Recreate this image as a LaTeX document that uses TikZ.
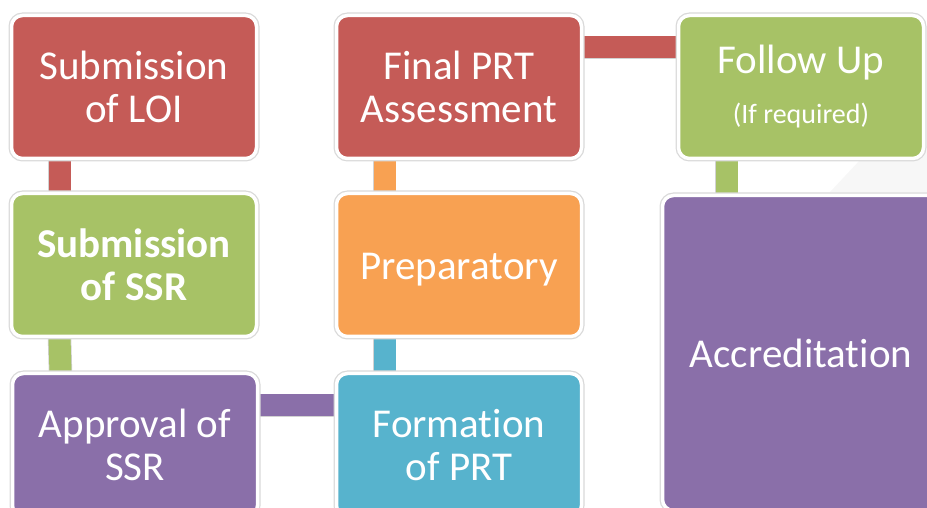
\documentclass[tikz,border=0pt]{standalone}
\usepackage{fontspec}
\setmainfont{Carlito}[Ligatures=NoCommon]
\usetikzlibrary{backgrounds}

\definecolor{loired}{HTML}{C55B57}
\definecolor{ssrgreen}{HTML}{A7C266}
\definecolor{apprpurple}{HTML}{8A6FA9}
\definecolor{prtblue}{HTML}{57B3CD}
\definecolor{preporange}{HTML}{F8A152}

\tikzset{
  stage/.style={draw=white, line width=3.5pt, rounded corners=11pt,
    minimum width=245pt, minimum height=143pt, text=white, align=center,
    font=\fontsize{41}{43}\selectfont, outer sep=0pt,
    preaction={draw=gray!30, line width=6pt}},
  link/.style={line width=22pt, preaction={draw=gray!35, line width=23.5pt}},
}

\begin{document}
\begin{tikzpicture}[x=1pt,y=1pt]
\useasboundingbox (0,0) rectangle (927,508);
\clip (0,0) rectangle (927,508);
% faint backdrop behind the right column
\fill[gray!6] (830,316) -- (860,348) -- (927,362) -- (927,316) -- cycle;

% left column
\node[stage, fill=loired] (loi) at (134,421) {Submission\\of LOI};
\node[stage, fill=ssrgreen, font=\fontsize{41}{43}\selectfont\bfseries] (ssr) at (134,243) {Submission\\of SSR};
\node[stage, fill=apprpurple] (appr) at (135,63) {Approval of\\SSR};
% middle column
\node[stage, fill=loired] (final) at (459,421) {Final PRT\\Assessment};
\node[stage, fill=preporange, text height=30pt, text depth=0pt] (prep) at (459,243) {Preparatory};
\node[stage, fill=prtblue] (form) at (459,63) {Formation\\of PRT};
% right column
\node[stage, fill=ssrgreen] (follow) at (801,421) {Follow Up\\[7pt]{\fontsize{28}{30}\selectfont (If required)}};
\node[stage, fill=apprpurple, minimum width=277pt, minimum height=315pt] (accr) at (801,155) {Accreditation};

% bars between the stages
\begin{pgfonlayer}{background}
\draw[link, loired] ([xshift=48pt]loi.south west) -- ([xshift=48pt]ssr.north west);
\draw[link, ssrgreen] ([xshift=48pt]ssr.south west) -- ([xshift=48pt]appr.north west);
\draw[link, apprpurple] ([yshift=-32pt]appr.north east) -- ([yshift=-32pt]form.north west);
\draw[link, prtblue] ([xshift=48pt]form.north west) -- ([xshift=48pt]prep.south west);
\draw[link, preporange] ([xshift=48pt]prep.north west) -- ([xshift=48pt]final.south west);
\draw[link, loired] ([yshift=-32pt]final.north east) -- ([yshift=-32pt]follow.north west);
\draw[link, ssrgreen] ([xshift=48pt]follow.south west) -- ([xshift=48pt]follow.south west |- accr.north);
\end{pgfonlayer}
\end{tikzpicture}
\end{document}
